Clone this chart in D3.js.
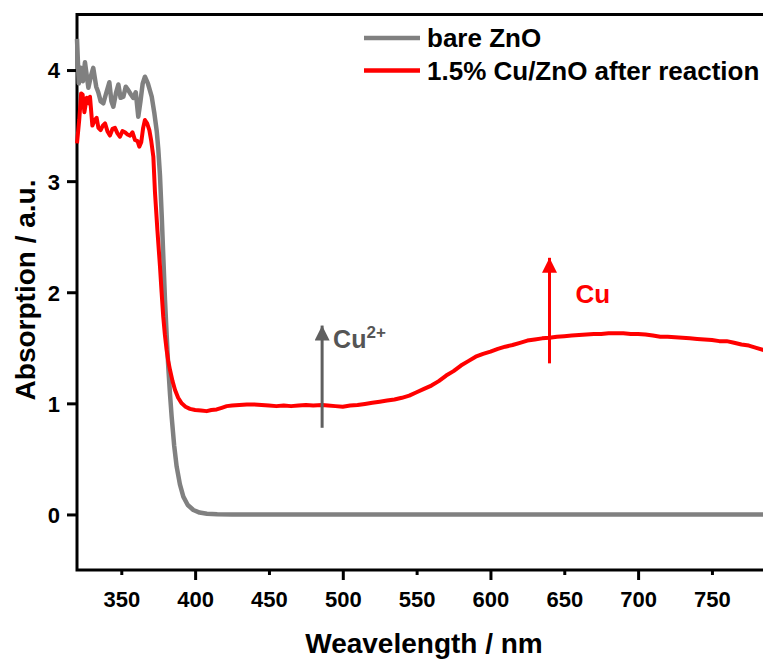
<!DOCTYPE html>
<html>
<head>
<meta charset="utf-8">
<script src="https://cdn.jsdelivr.net/npm/d3@7"></script>
<style>
  body { margin: 0; background: #fff; }
  text { font-family: "Liberation Sans", Arial, sans-serif; font-weight: bold; }
</style>
</head>
<body>
<script>
const w = 763;
const h = 662;

// bare ZnO
const bareWl = [320, 321.2, 322.5, 324, 325.4, 327.7, 329.5, 331, 333, 334.4, 336, 337.8, 339.5, 341.9, 343.3, 344.6,
    346.5, 348, 349.5, 351.4, 353, 354.7, 356.5, 358.1, 359.8, 361.5, 363, 364.5, 366, 368, 370.6, 372.3, 374,
    375.1, 376.2, 377.4, 378.5, 379.6, 380.7, 381.8, 383, 384.1, 385.8, 387.5, 389.7, 392, 395, 398.8, 403, 408,
    415, 425, 800];
const bareAbs = [4.28, 3.88, 4.02, 3.9, 4.07, 3.84, 3.95, 4.02, 3.85, 3.8, 3.72, 3.7, 3.78, 3.89, 3.72, 3.67,
    3.8, 3.87, 3.75, 3.76, 3.85, 3.82, 3.78, 3.75, 3.8, 3.58, 3.72, 3.88, 3.94, 3.88, 3.76, 3.62, 3.45,
    3.28, 3.05, 2.68, 2.3, 1.93, 1.62, 1.33, 1.08, 0.88, 0.62, 0.43, 0.27, 0.16, 0.085, 0.04, 0.017, 0.006,
    0.002, 0, 0];

// 1.5% Cu/ZnO after reaction
const cuWl = [320, 321.5, 322.8, 323.8, 325, 326.6, 328, 328.8, 330.4, 332, 333.3, 334.5, 336, 337.5, 339, 340.6,
    342.3, 344, 345.7, 347.4, 349.1, 350.8, 352.5, 354.2, 355.9, 357.6, 359.3, 361, 362.2, 363.5, 364.8, 366,
    367.5, 369, 370.3, 371.7, 372.8, 374.5, 376.2, 377.3, 378.4, 379.5, 380.7, 381.8, 383, 384.7, 386.4, 388.5,
    390.9, 393.5, 396.5, 400, 404, 407.8, 411, 414.6, 418, 421.4, 425, 430, 435, 440, 445, 450, 455, 460, 465,
    470, 475, 480, 486, 490, 495, 500, 505, 510, 515, 520, 525, 530, 535, 540, 545, 550, 555, 560, 565, 570,
    575, 580, 585, 590, 595, 600, 605, 610, 615, 620, 625, 630, 635, 640, 645, 650, 655, 660, 665, 670, 675,
    680, 685, 690, 695, 700, 705, 710, 715, 720, 725, 730, 735, 740, 745, 750, 755, 760, 765, 770, 775, 780,
    785, 790];
const cuAbs = [3.34, 3.55, 3.79, 3.78, 3.62, 3.75, 3.7, 3.76, 3.5, 3.55, 3.57, 3.48, 3.46, 3.5, 3.52, 3.45,
    3.41, 3.47, 3.48, 3.43, 3.4, 3.45, 3.44, 3.42, 3.41, 3.44, 3.37, 3.36, 3.31, 3.35, 3.48, 3.55,
    3.52, 3.46, 3.36, 3.22, 2.9, 2.55, 2.23, 2.0, 1.78, 1.62, 1.48, 1.38, 1.3, 1.2, 1.12, 1.05,
    1.0, 0.97, 0.95, 0.94, 0.935, 0.93, 0.94, 0.945, 0.96, 0.975, 0.98, 0.985, 0.99, 0.99, 0.985, 0.98, 0.975, 0.98, 0.975,
    0.98, 0.985, 0.98, 0.985, 0.98, 0.975, 0.97, 0.98, 0.985, 0.995, 1.005, 1.015, 1.025, 1.035, 1.05, 1.07, 1.1, 1.13, 1.16, 1.2, 1.25,
    1.29, 1.34, 1.38, 1.42, 1.445, 1.465, 1.49, 1.51, 1.525, 1.545, 1.565, 1.575, 1.585, 1.59, 1.6, 1.605, 1.61, 1.615, 1.62, 1.625, 1.625,
    1.63, 1.63, 1.63, 1.625, 1.625, 1.62, 1.61, 1.6, 1.6, 1.595, 1.59, 1.585, 1.58, 1.575, 1.57, 1.56, 1.56, 1.545, 1.53, 1.52, 1.5,
    1.48, 1.47];

const xTicks = [350, 400, 450, 500, 550, 600, 650, 700, 750];
const yTicks = [0, 1, 2, 3, 4];
const seriesNames = ["bare ZnO", "1.5% Cu/ZnO after reaction"];
const seriesColors = ["#808080", "#ff0000"];

// arrows: wavelength, from, to (absorbance)
const arrowWl = [486, 640];
const arrowFrom = [0.78, 1.36];
const arrowTo = [1.70, 2.31];
const arrowColors = ["#5f5f5f", "#ff0000"];

const margin = {left: 77, top: 14.5, bottom: 570};

const svg = d3.select("body")
    .append("svg")
    .attr("width", w)
    .attr("height", h)
    ;

const xScale = d3.scaleLinear()
    .domain([320, 800])
    .range([margin.left, margin.left + 480 * 1.4766])
    ;
const yScale = d3.scaleLinear()
    .domain([-0.5, 4.5])
    .range([margin.bottom, margin.top])
    ;

// frame
svg.append("rect")
    .attr("x", xScale(320))
    .attr("y", yScale(4.5))
    .attr("width", xScale(800) - xScale(320))
    .attr("height", yScale(-0.5) - yScale(4.5))
    .attr("fill", "none")
    .attr("stroke", "#000")
    .attr("stroke-width", 3)
    ;

// x axis
const xAxis = d3.axisBottom(xScale)
    .tickValues(xTicks)
    .tickSize(0)
    .tickPadding(0)
    .tickFormat("");
const gx = svg.append("g")
    .attr("transform", "translate(0," + margin.bottom + ")")
    .call(xAxis);
gx.select(".domain").remove();
gx.selectAll(".tick line")
    .attr("stroke", "#000")
    .attr("stroke-width", 3)
    .attr("y2", d => d % 100 === 0 ? 10 : 5);
gx.selectAll(".tick").append("text")
    .attr("y", 37)
    .attr("fill", "#000")
    .attr("text-anchor", "middle")
    .style("font-size", "22px")
    .text(d => d);

// y axis
const yAxis = d3.axisLeft(yScale)
    .tickValues(yTicks)
    .tickSize(0)
    .tickFormat("");
const gy = svg.append("g")
    .attr("transform", "translate(" + margin.left + ",0)")
    .call(yAxis);
gy.select(".domain").remove();
gy.selectAll(".tick line")
    .attr("stroke", "#000")
    .attr("stroke-width", 3)
    .attr("x2", -10);
gy.selectAll(".tick").append("text")
    .attr("x", -17)
    .attr("dy", "0.36em")
    .attr("fill", "#000")
    .attr("text-anchor", "end")
    .style("font-size", "22px")
    .text(d => d);

// axis titles
svg.append("text")
    .attr("x", 424)
    .attr("y", 653)
    .attr("text-anchor", "middle")
    .style("font-size", "28px")
    .text("Weavelength / nm");

svg.append("text")
    .attr("transform", "translate(35,290) rotate(-90)")
    .attr("text-anchor", "middle")
    .style("font-size", "28px")
    .text("Absorption / a.u.");

// curves
const line = d3.line()
    .x(d => xScale(d[0]))
    .y(d => yScale(d[1]))
    ;

svg.append("path")
    .datum(d3.zip(bareWl, bareAbs))
    .attr("fill", "none")
    .attr("stroke", seriesColors[0])
    .attr("stroke-width", 4.5)
    .attr("stroke-linejoin", "round")
    .attr("d", line);

svg.append("path")
    .datum(d3.zip(cuWl, cuAbs))
    .attr("fill", "none")
    .attr("stroke", seriesColors[1])
    .attr("stroke-width", 4)
    .attr("stroke-linejoin", "round")
    .attr("d", line);

// arrows
const defs = svg.append("defs");
arrowColors.forEach((c, i) => {
    defs.append("marker")
        .attr("id", "head" + i)
        .attr("viewBox", "0 0 10 10")
        .attr("refX", 10)
        .attr("refY", 5)
        .attr("markerUnits", "userSpaceOnUse")
        .attr("markerWidth", 31)
        .attr("markerHeight", 15)
        .attr("orient", "auto")
        .append("path")
        .attr("d", "M0,0 L10,5 L0,10 Z")
        .attr("fill", c);
});
arrowWl.forEach((wl, i) => {
    svg.append("line")
        .attr("x1", xScale(wl))
        .attr("x2", xScale(wl))
        .attr("y1", yScale(arrowFrom[i]))
        .attr("y2", yScale(arrowTo[i]))
        .attr("stroke", arrowColors[i])
        .attr("stroke-width", 3)
        .attr("marker-end", "url(#head" + i + ")");
});

const cu2 = svg.append("text")
    .attr("x", xScale(arrowWl[0]) + 11)
    .attr("y", yScale(1.5))
    .attr("fill", "#555")
    .style("font-size", "25px");
cu2.append("tspan").text("Cu");
cu2.append("tspan")
    .attr("dy", -10)
    .style("font-size", "17px")
    .text("2+");

svg.append("text")
    .attr("x", xScale(arrowWl[1]) + 26)
    .attr("y", yScale(1.9))
    .attr("fill", "#ff0000")
    .style("font-size", "26px")
    .text("Cu");

// legend
const legend = svg.append("g");
seriesNames.forEach((name, i) => {
    const ly = 38 + i * 32.5;
    legend.append("line")
        .attr("x1", 364)
        .attr("x2", 420)
        .attr("y1", ly)
        .attr("y2", ly)
        .attr("stroke", seriesColors[i])
        .attr("stroke-width", 4.5);
    legend.append("text")
        .attr("x", 427)
        .attr("y", ly + 9)
        .style("font-size", "26px")
        .text(name);
});
</script>
</body>
</html>
